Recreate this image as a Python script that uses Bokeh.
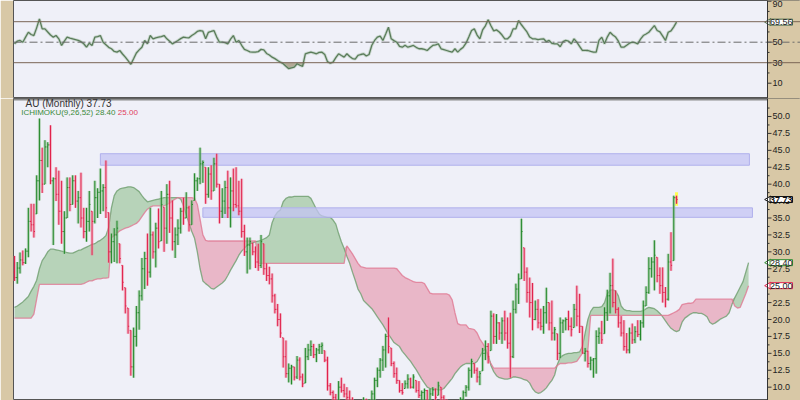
import numpy as np
from bokeh.plotting import figure
from bokeh.models import Range1d, Label, Span, BoxAnnotation
from bokeh.layouts import column
from bokeh.embed import file_html
from bokeh.resources import INLINE
from bokeh.core.properties import value

# ---------------- data (monthly OHLC) ----------------
high = [
    29.4, 28.5, 29.9, 30.2, 30.5, 36.5, 37.1, 37.1, 41.3, 49.7,
    45.4, 46.5, 46.2, 48.7, 41.0, 42.5, 42.0, 40.5, 36.0, 41.0,
    41.0, 41.3, 41.3, 39.0, 41.7, 36.5, 36.5, 39.0, 36.0, 40.5,
    39.4, 42.3, 40.0, 43.5, 35.8, 32.7, 33.5, 34.6, 31.2, 28.0,
    24.7, 21.7, 18.4, 18.8, 22.0, 24.3, 29.1, 30.0, 32.7, 36.5,
    33.0, 34.3, 36.4, 39.0, 36.6, 40.0, 40.5, 37.6, 33.6, 34.8,
    36.5, 38.0, 38.8, 36.8, 37.6, 41.6, 41.0, 45.4, 43.5, 42.5,
    42.5, 42.8, 43.9, 44.5, 40.0, 39.4, 40.5, 42.0, 41.0, 42.3,
    42.5, 40.5, 40.8, 34.0, 32.1, 32.1, 31.3, 30.8, 31.2, 32.5,
    31.2, 28.3, 27.8, 26.8, 23.8, 22.3, 20.9, 17.3, 16.9, 13.5,
    13.3, 13.0, 14.6, 14.4, 12.0, 15.8, 16.4, 16.9, 16.4, 15.8,
    16.4, 16.6, 15.4, 14.5, 10.6, 9.5, 9.0, 10.9, 11.4, 10.5,
    10.0, 9.5, 8.5, 8.0, 7.8, 8.0, 8.5, 8.3, 8.2, 9.5,
    11.4, 12.9, 14.3, 16.1, 17.9, 20.3, 15.8, 13.8, 12.9, 11.0,
    10.6, 11.0, 11.9, 11.4, 11.9, 11.0, 10.9, 9.5, 9.8, 9.6,
    9.8, 10.0, 9.8, 10.8, 10.0, 8.8, 8.2, 7.8, 7.8, 7.6,
    7.9, 8.5, 9.5, 10.3, 12.9, 14.2, 13.5, 12.9, 12.4, 15.8,
    16.9, 16.5, 21.3, 20.9, 20.8, 19.6, 20.3, 21.3, 20.3, 21.0,
    22.8, 25.3, 26.8, 34.9, 30.6, 27.7, 26.2, 25.4, 22.8, 23.0,
    21.6, 22.0, 24.7, 22.5, 22.8, 18.9, 17.9, 20.3, 20.0, 20.3,
    21.3, 20.3, 22.3, 25.0, 23.8, 19.0, 15.8, 15.4, 14.5, 14.3,
    18.4, 18.8, 19.8, 21.8, 24.4, 26.9, 29.0, 24.3, 21.8, 20.5,
    19.9, 18.0, 18.8, 19.4, 19.0, 19.9, 19.9, 22.8, 24.9, 29.2,
    29.2, 31.7, 29.2, 27.7, 27.7, 24.8, 29.7, 32.9, 38.3, 38.3,
]
low = [
    25.7, 25.3, 26.8, 28.0, 28.2, 29.2, 33.0, 32.1, 35.6, 37.6,
    38.7, 40.0, 42.5, 40.0, 31.0, 37.5, 34.0, 31.2, 29.7, 35.0,
    36.0, 37.0, 36.5, 34.2, 33.6, 32.0, 31.5, 33.0, 29.5, 34.2,
    35.0, 35.6, 36.0, 35.0, 28.4, 28.3, 28.5, 28.3, 28.3, 24.3,
    20.9, 17.9, 11.7, 11.4, 16.0, 18.5, 22.8, 24.5, 25.0, 26.2,
    29.0, 27.7, 30.5, 31.6, 30.0, 31.2, 32.8, 30.2, 29.1, 31.0,
    32.7, 34.0, 35.0, 33.0, 34.0, 37.6, 39.0, 40.0, 40.2, 37.1,
    38.0, 37.7, 39.0, 39.5, 34.2, 35.0, 35.6, 35.0, 33.6, 36.0,
    36.5, 35.4, 32.1, 29.4, 26.8, 27.4, 29.5, 27.6, 27.2, 27.6,
    26.6, 25.7, 25.2, 22.5, 20.9, 19.0, 17.3, 12.9, 11.4, 10.7,
    10.4, 11.0, 11.2, 11.0, 10.0, 10.6, 14.0, 14.6, 14.3, 13.7,
    14.9, 14.9, 13.7, 9.5, 8.8, 8.0, 7.5, 7.5, 9.2, 8.5,
    8.0, 7.5, 6.5, 6.0, 5.8, 6.0, 6.0, 6.5, 6.5, 7.5,
    8.0, 10.0, 11.4, 12.4, 12.9, 15.0, 13.1, 11.4, 10.5, 9.2,
    8.9, 9.8, 9.8, 9.8, 9.8, 9.2, 8.4, 8.0, 7.8, 7.6,
    7.8, 8.7, 7.8, 8.8, 7.8, 7.2, 6.8, 6.5, 6.3, 6.2,
    6.4, 7.0, 7.8, 8.6, 9.5, 11.4, 12.0, 10.7, 10.3, 12.4,
    14.0, 13.5, 15.4, 16.4, 16.4, 17.0, 16.4, 16.9, 15.7, 11.4,
    14.3, 20.9, 22.3, 26.0, 25.7, 22.5, 20.3, 18.4, 19.9, 18.7,
    18.4, 17.9, 19.4, 18.4, 16.9, 16.9, 14.0, 14.3, 18.0, 18.4,
    18.4, 17.5, 18.8, 19.0, 18.0, 15.0, 13.8, 12.9, 12.5, 11.4,
    12.0, 16.4, 16.4, 17.9, 19.8, 20.9, 21.8, 20.9, 18.8, 17.5,
    15.4, 15.0, 15.0, 16.4, 16.5, 17.4, 16.9, 18.8, 22.0, 23.8,
    26.2, 24.3, 25.5, 23.8, 22.5, 21.8, 22.8, 27.2, 28.7, 37.1,
]
close = [
    26.2, 27.6, 28.8, 28.4, 30.1, 34.5, 34.0, 33.0, 40.5, 43.5,
    40.0, 45.5, 45.8, 40.5, 40.8, 38.5, 36.0, 33.0, 35.0, 39.5,
    37.0, 40.5, 37.5, 38.0, 35.0, 33.0, 34.5, 37.0, 34.5, 38.0,
    38.8, 39.0, 39.5, 36.5, 30.0, 31.5, 32.5, 33.5, 29.0, 25.5,
    22.0, 19.0, 13.0, 17.5, 21.0, 23.5, 27.5, 29.0, 27.0, 32.5,
    30.0, 33.5, 31.5, 37.0, 33.5, 38.5, 35.0, 31.5, 32.5, 33.5,
    36.0, 35.0, 36.5, 34.0, 37.0, 40.5, 40.8, 43.0, 43.2, 38.5,
    41.5, 39.0, 43.0, 40.0, 36.0, 37.5, 39.5, 36.5, 39.0, 37.0,
    36.8, 36.0, 33.0, 30.0, 31.0, 31.5, 30.0, 28.5, 28.0, 31.5,
    27.5, 26.5, 26.0, 23.5, 21.5, 20.0, 18.0, 14.5, 12.0, 12.8,
    13.0, 11.5, 14.0, 11.5, 10.5, 14.5, 15.5, 16.0, 14.8, 15.5,
    16.0, 16.2, 14.0, 10.2, 9.2, 8.5, 8.0, 10.0, 9.5, 9.0,
    8.5, 8.0, 7.0, 6.5, 7.0, 6.5, 8.0, 7.0, 7.8, 9.0,
    11.0, 12.5, 14.0, 15.5, 17.5, 16.0, 13.5, 12.0, 11.0, 9.5,
    9.2, 10.5, 11.2, 10.0, 11.5, 9.5, 8.8, 9.2, 9.5, 8.0,
    9.0, 9.6, 8.5, 10.2, 8.5, 7.6, 7.2, 7.0, 7.3, 6.8,
    7.4, 8.2, 9.2, 10.0, 12.5, 13.8, 12.5, 11.5, 12.0, 15.0,
    16.0, 14.5, 20.5, 17.5, 19.5, 18.0, 19.8, 18.0, 16.5, 14.5,
    21.5, 24.5, 26.0, 33.0, 27.0, 24.0, 22.5, 20.0, 21.5, 19.5,
    19.0, 21.0, 22.5, 19.5, 18.0, 18.5, 15.0, 19.5, 19.8, 20.0,
    19.0, 18.5, 21.5, 20.5, 19.0, 15.0, 15.3, 13.5, 14.0, 14.2,
    17.5, 18.0, 17.0, 21.0, 23.5, 25.0, 22.5, 21.5, 19.5, 18.0,
    16.0, 15.5, 18.0, 17.0, 18.2, 17.8, 19.5, 22.0, 24.0, 27.5,
    28.5, 29.5, 26.5, 25.0, 24.0, 23.0, 28.5, 28.0, 38.0, 37.73,
]
first_open = 27.0

# Ichimoku cloud (leading spans, 26 bars beyond the last bar)
span_a = [
    21.8, 22.0, 22.3, 22.6, 23.0, 23.4, 24.2, 24.9, 25.8, 27.5,
    28.7, 29.3, 30.0, 30.4, 30.4, 30.3, 30.2, 30.1, 30.0, 29.9,
    29.8, 29.8, 30.0, 30.2, 30.3, 30.5, 30.7, 30.9, 31.1, 31.2,
    31.5, 31.7, 32.0, 32.4, 33.6, 36.5, 38.3, 39.0, 39.3, 39.4,
    39.5, 39.6, 39.6, 39.5, 39.2, 38.9, 38.3, 37.8, 37.4, 37.5,
    37.6, 37.7, 37.8, 37.9, 38.0, 38.0, 38.0, 38.0, 38.0, 38.0,
    37.8, 36.8, 35.5, 34.2, 33.0, 32.0, 30.0, 27.5, 25.7, 25.3,
    25.0, 24.6, 24.5, 24.8, 25.1, 25.4, 25.8, 26.5, 27.3, 28.0,
    28.7, 29.5, 30.1, 30.5, 31.0, 31.2, 31.3, 31.5, 31.6, 31.7,
    31.9, 32.1, 32.5, 34.3, 35.3, 35.9, 36.2, 37.4, 37.9, 38.1,
    38.1, 38.2, 38.2, 38.2, 38.2, 38.2, 38.2, 37.9, 37.1, 36.3,
    35.6, 35.3, 35.2, 35.1, 35.1, 34.7, 34.1, 32.7, 31.5, 30.5,
    29.3, 28.3, 27.0, 25.8, 24.5, 23.8, 22.8, 22.4, 22.0, 21.6,
    21.0, 20.4, 19.8, 19.2, 18.5, 17.8, 17.2, 16.6, 16.3, 16.0,
    15.3, 14.8, 14.3, 13.8, 13.2, 12.6, 11.9, 11.2, 10.6, 10.0,
    9.8, 9.7, 9.7, 9.6, 9.6, 9.8, 10.3, 10.8, 11.3, 12.0,
    12.5, 13.0, 13.3, 13.5, 13.5, 13.5, 13.5, 13.8, 14.5, 15.3,
    15.6, 14.8, 13.2, 12.3, 11.7, 11.4, 11.3, 11.2, 11.2, 11.3,
    11.5, 11.5, 11.4, 11.3, 11.1, 11.0, 10.6, 9.8, 9.3, 9.1,
    9.2, 9.5, 9.9, 10.5, 11.0, 11.8, 13.4, 14.4, 14.7, 14.9,
    15.0, 15.0, 15.1, 15.1, 15.2, 16.0, 18.0, 20.0, 21.2, 21.8,
    21.8, 21.8, 21.9, 22.5, 23.8, 24.3, 24.4, 24.2, 23.5, 22.0,
    21.5, 21.3, 21.3, 21.2, 21.2, 21.2, 21.2, 21.3, 21.6, 21.8,
    21.7, 21.6, 21.3, 20.9, 20.4, 19.8, 19.2, 18.7, 18.4, 18.2,
    18.4, 19.6, 20.2, 20.5, 20.8, 21.0, 21.0, 20.9, 20.9, 20.7,
    20.4, 19.6, 19.3, 19.5, 19.8, 20.1, 20.3, 20.5, 21.0, 22.2,
    23.2, 24.0, 24.8, 25.6, 27.0, 28.4,
]
span_b = [
    20.2, 20.2, 20.2, 20.2, 20.2, 20.2, 20.2, 20.8, 23.0, 25.2,
    25.2, 25.2, 25.2, 25.2, 25.2, 25.2, 25.2, 25.2, 25.2, 25.2,
    25.2, 25.2, 25.2, 25.2, 25.2, 25.3, 25.5, 25.7, 25.7, 25.9,
    26.0, 26.0, 26.1, 26.1, 26.2, 32.1, 32.4, 32.8, 33.1, 33.3,
    33.5, 33.6, 33.8, 34.0, 34.2, 34.6, 35.2, 35.8, 36.3, 36.6,
    36.8, 36.8, 36.8, 36.8, 36.8, 37.0, 37.2, 37.5, 37.8, 38.0,
    38.0, 38.0, 38.0, 38.0, 38.0, 37.9, 37.0, 34.8, 32.5, 31.7,
    31.6, 31.6, 31.6, 31.6, 31.6, 31.6, 31.6, 31.6, 31.6, 31.6,
    31.6, 31.6, 31.6, 31.6, 31.6, 31.6, 31.6, 31.6, 28.3, 28.3,
    28.3, 28.3, 28.3, 28.3, 28.3, 28.3, 28.3, 28.3, 28.3, 28.3,
    28.3, 28.3, 28.3, 28.3, 28.3, 28.3, 28.3, 28.3, 28.3, 28.3,
    28.3, 28.3, 28.3, 28.3, 28.3, 28.3, 28.3, 28.3, 28.3, 28.3,
    30.9, 30.3, 29.7, 29.0, 28.3, 27.8, 27.7, 27.6, 27.6, 27.6,
    27.6, 27.6, 27.6, 27.6, 27.6, 27.6, 27.6, 27.6, 27.5, 27.0,
    26.5, 26.2, 26.0, 25.8, 25.6, 25.5, 25.5, 25.5, 25.3, 24.6,
    23.9, 23.8, 23.8, 23.8, 23.8, 23.8, 23.8, 23.6, 22.9, 21.0,
    19.4, 19.2, 19.2, 19.2, 18.7, 18.6, 18.5, 18.0, 17.1, 16.5,
    15.8, 14.2, 13.5, 12.8, 12.8, 12.8, 12.8, 12.8, 12.8, 12.8,
    12.8, 12.8, 12.8, 12.8, 12.8, 12.8, 12.8, 12.8, 12.8, 12.8,
    12.8, 12.8, 12.8, 12.8, 12.8, 12.8, 13.2, 13.5, 13.5, 13.5,
    13.6, 13.6, 13.7, 13.8, 14.4, 15.0, 15.2, 15.5, 20.6, 20.6,
    20.6, 20.6, 20.6, 20.6, 20.6, 20.6, 20.6, 20.6, 20.6, 20.6,
    20.6, 20.6, 20.6, 20.6, 20.6, 20.6, 20.6, 20.6, 20.6, 20.6,
    20.6, 20.6, 20.6, 20.6, 20.6, 20.6, 20.6, 20.8, 21.0, 21.2,
    21.5, 22.2, 22.3, 22.4, 22.4, 22.5, 23.0, 23.0, 23.0, 23.0,
    23.0, 23.0, 23.0, 23.0, 23.0, 23.0, 23.0, 23.0, 23.0, 23.0,
    22.0, 21.7, 21.8, 22.8, 23.8, 25.0,
]

# RSI(14)
rsi = [
    48.4, 51.0, 51.7, 50.0, 55.0, 59.7, 57.5, 56.5, 64.0, 72.7,
    63.0, 63.0, 60.0, 57.0, 54.9, 56.5, 53.3, 46.8, 51.0, 54.9,
    54.0, 53.3, 52.5, 51.7, 50.5, 48.5, 45.1, 49.0, 46.8, 54.9,
    55.5, 56.5, 50.0, 47.5, 45.0, 43.6, 41.0, 40.3, 41.9, 38.5,
    35.4, 32.0, 28.4, 33.9, 39.5, 42.5, 45.1, 51.7, 48.4, 56.5,
    53.3, 54.3, 54.9, 55.5, 56.5, 53.3, 51.0, 48.4, 50.0, 51.7,
    53.5, 54.9, 54.5, 54.3, 56.5, 58.2, 60.5, 61.4, 60.7, 53.3,
    59.7, 60.5, 61.4, 55.0, 50.0, 50.0, 49.5, 48.4, 53.0, 56.5,
    50.0, 51.7, 47.0, 43.0, 41.9, 40.5, 40.3, 40.3, 40.8, 43.0,
    42.5, 39.0, 37.5, 35.4, 34.0, 32.2, 30.5, 29.0, 26.5, 24.2,
    25.0, 25.7, 29.0, 27.5, 26.4, 38.7, 39.5, 40.3, 39.5, 38.7,
    40.0, 40.3, 38.0, 31.0, 29.5, 30.6, 35.0, 38.7, 37.0, 35.4,
    38.7, 36.0, 34.0, 33.5, 37.1, 38.0, 38.7, 36.5, 38.0, 47.0,
    51.7, 55.0, 56.0, 51.7, 58.0, 64.6, 53.3, 51.5, 50.0, 46.0,
    45.1, 47.0, 45.1, 46.0, 46.8, 45.0, 43.6, 43.6, 43.0, 41.9,
    44.5, 46.8, 47.5, 48.4, 43.6, 42.8, 41.9, 41.0, 40.3, 43.6,
    40.3, 43.0, 45.1, 49.0, 55.0, 61.4, 63.0, 57.0, 53.3, 62.0,
    66.0, 72.0, 66.0, 61.0, 62.0, 60.0, 57.0, 53.3, 53.3, 56.0,
    63.0, 63.0, 71.1, 67.0, 63.5, 60.0, 55.0, 53.3, 53.3, 52.5,
    53.0, 53.3, 50.5, 51.7, 48.8, 48.4, 48.4, 45.5, 50.5, 51.7,
    51.0, 48.4, 53.3, 50.0, 46.0, 42.0, 42.0, 41.9, 41.0, 40.3,
    40.3, 51.7, 54.9, 48.4, 55.0, 59.7, 57.0, 55.0, 51.0, 45.1,
    45.1, 47.0, 49.0, 50.0, 49.5, 48.4, 53.0, 56.5, 58.0, 59.7,
    63.0, 66.2, 61.4, 60.0, 56.0, 51.7, 59.7, 61.0, 65.0, 69.56,
]
rsi_levels = [30, 50, 70]
rsi_ticks = [10, 30, 50, 70]
rsi_top_tick = 90
rsi_minor = [20, 40, 60, 80]
price_ticks = [10.0, 12.5, 15.0, 17.5, 20.0, 22.5, 25.0, 27.5, 30.0,
               32.5, 35.0, 37.5, 40.0, 42.5, 45.0, 47.5, 50.0]
price_minor = [11.25, 13.75, 16.25, 18.75, 21.25, 23.75, 26.25, 28.75, 31.25,
               33.75, 36.25, 38.75, 41.25, 43.75, 46.25, 48.75, 51.25]

# resistance zones (start bar, end bar, low, high)
zone_start = [31.0, 68.0]
zone_end = [265.3, 266.4]
zone_low = [42.8, 35.1]
zone_high = [44.5, 36.5]

ticker_name = "AU (Monthly)"
ichi_name = "ICHIMOKU(9,26,52)"

# ---------------- styling ----------------
BG = "#eff0f8"
TAN = "#d8c8a6"
GREEN_D = "#22882a"
GREEN_L = "#8cc08c"
RED_D = "#e0224c"
RED_L = "#f08ea4"
FONT = "Liberation Sans"
PX = 2.77            # pixels per bar
AX = 271.84          # bar coordinate of the price axis line

hi = np.array(high)
lo = np.array(low)
cl = np.array(close)
op = np.array([first_open] + close[:-1])
op_t = np.clip(op, lo, hi)
N = len(cl)
idx = np.arange(N)
up = cl >= op
dark = np.where(up, GREEN_D, RED_D).tolist()
glow = np.where(up, GREEN_L, RED_L).tolist()

sa = np.array(span_a)
sb = np.array(span_b)
cidx = np.arange(len(sa))
top_ab = np.maximum(sa, sb)

xr = Range1d(-0.361, 283.75)


def make_fig(height, yr):
    f = figure(width=800, height=height, x_range=xr, y_range=yr,
               x_axis_location=None, y_axis_location=None, output_backend="svg",
               toolbar_location=None, min_border_left=13, min_border_right=0,
               min_border_top=0, min_border_bottom=0, background_fill_color=BG,
               border_fill_color=TAN, outline_line_color="#555555", outline_line_width=1)
    f.grid.visible = False
    # axis strip on the right
    f.quad(left=[AX], right=[AX + 40], bottom=[yr.start - 100], top=[yr.end + 100],
           fill_color=TAN, line_color=None)
    return f


def draw_axis(f, ticks, minor, labels):
    n = len(ticks)
    f.add_layout(Span(location=AX, dimension="height", line_color="#333333", line_width=1))
    f.segment(x0=[AX] * n, y0=ticks, x1=[AX + 4 / PX] * n, y1=ticks, line_color="#333333")
    f.segment(x0=[AX] * len(minor), y0=minor, x1=[AX + 2 / PX] * len(minor), y1=minor,
              line_color="#333333")
    f.text(x=[AX + 5 / PX] * n, y=ticks, text=labels, text_font=value(FONT),
           text_font_size="9px", text_baseline="middle", text_align="left",
           text_color="#222222")


def tag(f, y, text, border, color, bold=False):
    f.scatter(x=[AX + 1.2 / PX], y=[y], marker="triangle", angle=np.pi / 2, size=7,
              fill_color="white", line_color=border)
    f.add_layout(Label(x=AX + 2.5 / PX, y=y, text=text, text_baseline="middle",
                       text_align="left", text_font_size="9px", text_font=FONT,
                       text_color=color, text_font_style="bold" if bold else "normal",
                       background_fill_color="white", border_line_color=border,
                       border_line_width=1))


# ---------------- RSI panel ----------------
r = make_fig(98, Range1d(-4.93, 90.68))
rs = np.array(rsi)
r.varea(x=idx, y1=np.minimum(rs, 30), y2=np.full(N, 30.0), fill_color="#a89e86", fill_alpha=0.85)
for lvl in rsi_levels:
    if lvl == 50:
        r.add_layout(Span(location=lvl, dimension="width", line_color="#6a6a6a",
                          line_width=1, line_dash="8 3 2 3"))
    else:
        r.add_layout(Span(location=lvl, dimension="width", line_color="#7a6656", line_width=1))
r.line(idx, rs, line_color="#a8c0a8", line_width=3, line_alpha=0.5)
r.line(idx, rs, line_color="#5a7c5a", line_width=1.3)
draw_axis(r, rsi_ticks, rsi_minor, [str(t) for t in rsi_ticks])
# top tick of the RSI scale, label kept inside the panel
r.segment(x0=[AX], y0=[rsi_top_tick], x1=[AX + 4 / PX], y1=[rsi_top_tick], line_color="#333333")
r.text(x=[AX + 5 / PX], y=[rsi_top_tick], text=[str(rsi_top_tick)], text_font=value(FONT),
       text_font_size="9px", text_baseline="top", text_align="left", text_color="#222222")
tag(r, rsi[-1], f"{rsi[-1]:.2f}", "#4a6a4a", "#222222")

# ---------------- price panel ----------------
p = make_fig(302, Range1d(8.03, 52.66))

# cloud
p.varea(x=cidx, y1=sb, y2=top_ab, fill_color="#a9cca9", fill_alpha=0.8)
p.varea(x=cidx, y1=sa, y2=top_ab, fill_color="#e7a9bb", fill_alpha=0.8)
p.line(cidx, sa, line_color="#6e9e6e", line_width=1.3, line_alpha=0.8)
p.line(cidx, sb, line_color="#e07892", line_width=1.3, line_alpha=0.8)

# zones
p.quad(left=zone_start, right=zone_end, bottom=zone_low, top=zone_high,
       fill_color="#c4c4f4", fill_alpha=0.75, line_color="#b0b0ec", line_width=1)

# last bar highlight
p.quad(left=[N - 1 - 0.55], right=[N - 1 + 0.55], bottom=[lo[-1] - 0.3], top=[hi[-1] + 0.5],
       fill_color="#ffff50", line_color=None)

# OHLC bars
p.segment(x0=idx, y0=lo, x1=idx, y1=hi, line_color=glow, line_width=3, line_alpha=0.55)
p.segment(x0=idx, y0=lo, x1=idx, y1=hi, line_color=dark, line_width=1)
p.segment(x0=idx - 0.4, y0=op_t, x1=idx, y1=op_t, line_color=dark, line_width=1)
p.segment(x0=idx, y0=cl, x1=idx + 0.4, y1=cl, line_color=dark, line_width=1)

# separator between the panels
p.add_layout(BoxAnnotation(bottom=52.36, right=AX, fill_color="#8c8c8c", fill_alpha=1.0,
                           line_color=None))

# legend texts
p.add_layout(Label(x=3.97, y=51.85, text=f"{ticker_name} {close[-1]:.2f}", text_baseline="middle",
                   text_font_size="10px", text_font=FONT, text_color="#333333"))
p.add_layout(Label(x=2.42, y=50.52, text=f"{ichi_name} {span_a[-1]:.2f}", text_baseline="middle",
                   text_font_size="8px", text_font=FONT, text_color="#3a8a3a"))
p.add_layout(Label(x=37.3, y=50.52, text=f"{span_b[-1]:.2f}", text_baseline="middle",
                   text_font_size="8px", text_font=FONT, text_color="#e0405e"))

draw_axis(p, price_ticks, price_minor, [f"{t:.1f}" for t in price_ticks])
tag(p, close[-1], f"{close[-1]:.2f}", "#111111", "#111111", bold=True)
tag(p, span_a[-1], f"{span_a[-1]:.2f}", "#2e8b2e", "#222222")
tag(p, span_b[-1], f"{span_b[-1]:.2f}", "#e0224c", "#222222")

layout = column(r, p, spacing=0)
open("out.html", "w").write(file_html(layout, INLINE))
